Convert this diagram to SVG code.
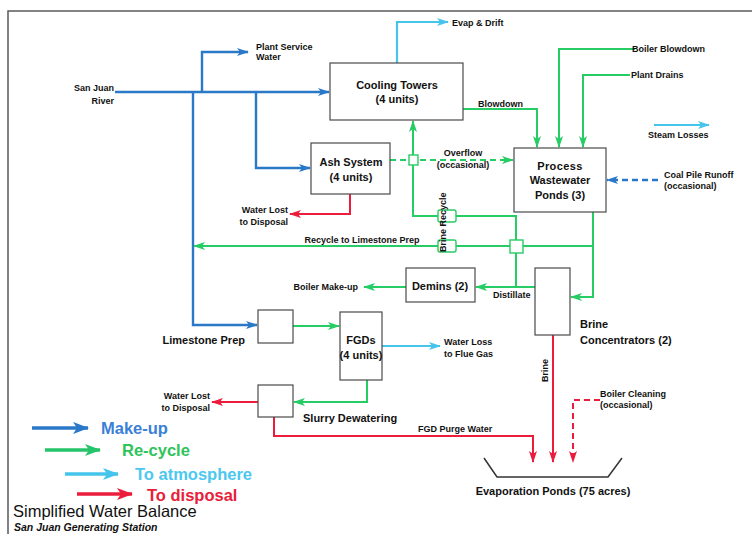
<svg xmlns="http://www.w3.org/2000/svg" width="752" height="534" viewBox="0 0 752 534">
  <style>
    .box { fill: #ffffff; stroke: #4a4a4a; stroke-width: 1.2; }
    .lbl { font-family: "Liberation Sans", Arial, sans-serif; font-weight: bold; font-size: 9px; fill: #111; }
    .blbl { font-family: "Liberation Sans", Arial, sans-serif; font-weight: bold; font-size: 11px; fill: #111; }
    .blue { fill: none; stroke: #2a78c8; stroke-width: 2.4; }
    .green { fill: none; stroke: #26cc64; stroke-width: 2; }
    .cyan { fill: none; stroke: #45c4ec; stroke-width: 2.2; }
    .red { fill: none; stroke: #ec1c3c; stroke-width: 2; }
    .dash { stroke-dasharray: 6 4; }
    .jump { fill: #ffffff; stroke: #26cc64; stroke-width: 1.4; }
  </style>
  <defs>
    <marker id="aBlue" viewBox="0 0 12 8" refX="11" refY="4" markerWidth="12" markerHeight="8" markerUnits="userSpaceOnUse" orient="auto">
      <path d="M0,0 L12,4 L0,8 L3,4 z" fill="#2a78c8"/>
    </marker>
    <marker id="aGreen" viewBox="0 0 12 8" refX="11" refY="4" markerWidth="12" markerHeight="8" markerUnits="userSpaceOnUse" orient="auto">
      <path d="M0,0 L12,4 L0,8 L3,4 z" fill="#26cc64"/>
    </marker>
    <marker id="aCyan" viewBox="0 0 12 8" refX="11" refY="4" markerWidth="12" markerHeight="8" markerUnits="userSpaceOnUse" orient="auto">
      <path d="M0,0 L12,4 L0,8 L3,4 z" fill="#45c4ec"/>
    </marker>
    <marker id="aRed" viewBox="0 0 12 8" refX="11" refY="4" markerWidth="12" markerHeight="8" markerUnits="userSpaceOnUse" orient="auto">
      <path d="M0,0 L12,4 L0,8 L3,4 z" fill="#ec1c3c"/>
    </marker>
    <marker id="lBlue" viewBox="0 0 16 12" refX="15" refY="6" markerWidth="16" markerHeight="12" markerUnits="userSpaceOnUse" orient="auto">
      <path d="M0,0 L16,6 L0,12 L4,6 z" fill="#2a78c8"/>
    </marker>
    <marker id="lGreen" viewBox="0 0 16 12" refX="15" refY="6" markerWidth="16" markerHeight="12" markerUnits="userSpaceOnUse" orient="auto">
      <path d="M0,0 L16,6 L0,12 L4,6 z" fill="#26c46a"/>
    </marker>
    <marker id="lCyan" viewBox="0 0 16 12" refX="15" refY="6" markerWidth="16" markerHeight="12" markerUnits="userSpaceOnUse" orient="auto">
      <path d="M0,0 L16,6 L0,12 L4,6 z" fill="#45c4ec"/>
    </marker>
    <marker id="lRed" viewBox="0 0 16 12" refX="15" refY="6" markerWidth="16" markerHeight="12" markerUnits="userSpaceOnUse" orient="auto">
      <path d="M0,0 L16,6 L0,12 L4,6 z" fill="#ec1c3c"/>
    </marker>
  </defs>

  <rect width="752" height="534" fill="#ffffff"/>
  <!-- frame -->
  <path d="M8,534 V11 H752" fill="none" stroke="#5a5a5a" stroke-width="1.5"/>

  <!-- connectors -->
  <g id="connectors">
    <!-- make-up water from the river -->
    <path class="blue" d="M115,92 H329" marker-end="url(#aBlue)"/>
    <path class="blue" d="M202,92 V52 H248" marker-end="url(#aBlue)"/>
    <path class="blue" d="M256,92 V168 H310" marker-end="url(#aBlue)"/>
    <path class="blue" d="M193,92 V325 H257" marker-end="url(#aBlue)"/>
    <path class="blue dash" d="M658,180 H607" marker-end="url(#aBlue)"/>

    <!-- losses to atmosphere -->
    <path class="cyan" d="M397,63 V22 H448" marker-end="url(#aCyan)"/>
    <path class="cyan" d="M382,346 H440" marker-end="url(#aCyan)"/>
    <path class="cyan" d="M654,125 H709" marker-end="url(#aCyan)"/>

    <!-- recycle streams -->
    <path class="green" d="M463,109 H537 V147" marker-end="url(#aGreen)"/>
    <path class="green" d="M635,49 H559 V147" marker-end="url(#aGreen)"/>
    <path class="green" d="M630,75 H583 V147" marker-end="url(#aGreen)"/>
    <path class="green dash" d="M390,160 H513" marker-end="url(#aGreen)"/>
    <path class="green" d="M516,287 V216 H413 V121" marker-end="url(#aGreen)"/>
    <path class="green" d="M593,212 V297 H571" marker-end="url(#aGreen)"/>
    <path class="green" d="M593,246 H194" marker-end="url(#aGreen)"/>
    <path class="green" d="M535,287 H476" marker-end="url(#aGreen)"/>
    <path class="green" d="M406,287 H364" marker-end="url(#aGreen)"/>
    <path class="green" d="M293,326 H339" marker-end="url(#aGreen)"/>
    <path class="green" d="M367,380 V402 H294" marker-end="url(#aGreen)"/>

    <!-- line crossings -->
    <rect class="jump" x="409" y="155" width="9" height="10"/>
    <rect class="jump" x="438" y="210" width="18" height="12" rx="2"/>
    <rect class="jump" x="438" y="240" width="18" height="12" rx="2"/>
    <rect class="jump" x="510" y="240" width="13" height="13"/>

    <!-- streams to disposal -->
    <path class="red" d="M350,194 V214 H290" marker-end="url(#aRed)"/>
    <path class="red" d="M258,402 H212" marker-end="url(#aRed)"/>
    <path class="red" d="M274,417 V436 H533 V462" marker-end="url(#aRed)"/>
    <path class="red" d="M553,335 V462" marker-end="url(#aRed)"/>
    <path class="red dash" d="M600,400 H573 V462" marker-end="url(#aRed)"/>
  </g>

  <!-- stream labels -->
  <g id="labels">
    <text class="lbl" x="114" y="91" text-anchor="end" font-size="10.5">San Juan</text>
    <text class="lbl" x="114" y="104" text-anchor="end" font-size="10.5">River</text>
    <text class="lbl" x="256" y="50">Plant Service</text>
    <text class="lbl" x="256" y="60">Water</text>
    <text class="lbl" x="452" y="26" font-size="9.5">Evap &amp; Drift</text>
    <text class="lbl" x="478" y="107">Blowdown</text>
    <text class="lbl" x="632" y="52">Boiler Blowdown</text>
    <text class="lbl" x="631" y="78">Plant Drains</text>
    <text class="lbl" x="648" y="138">Steam Losses</text>
    <text class="lbl" x="664" y="178">Coal Pile Runoff</text>
    <text class="lbl" x="664" y="189">(occasional)</text>
    <text class="lbl" x="463" y="156" text-anchor="middle">Overflow</text>
    <text class="lbl" x="463" y="168" text-anchor="middle">(occasional)</text>
    <text class="lbl" x="288" y="213" text-anchor="end">Water Lost</text>
    <text class="lbl" x="288" y="225" text-anchor="end">to Disposal</text>
    <text class="lbl" x="362" y="243" text-anchor="middle">Recycle to Limestone Prep</text>
    <text class="lbl" x="0" y="0" font-size="6.5" transform="translate(446,252) rotate(-90)">Brine Recycle</text>
    <text class="lbl" x="358" y="290" text-anchor="end">Boiler Make-up</text>
    <text class="lbl" x="493" y="298">Distillate</text>
    <text class="blbl" x="245" y="344" text-anchor="end">Limestone Prep</text>
    <text class="lbl" x="444" y="345">Water Loss</text>
    <text class="lbl" x="444" y="357">to Flue Gas</text>
    <text class="lbl" x="210" y="399" text-anchor="end">Water Lost</text>
    <text class="lbl" x="210" y="411" text-anchor="end">to Disposal</text>
    <text class="lbl" x="418" y="432">FGD Purge Water</text>
    <text class="lbl" x="0" y="0" transform="translate(548,382) rotate(-90)">Brine</text>
    <text class="lbl" x="600" y="397">Boiler Cleaning</text>
    <text class="lbl" x="600" y="408">(occasional)</text>
  </g>

  <!-- nodes -->
  <g id="cooling-towers">
    <rect class="box" x="330" y="63" width="133" height="57"/>
    <text class="blbl" x="397" y="89" text-anchor="middle">Cooling Towers</text>
    <text class="blbl" x="397" y="103" text-anchor="middle">(4 units)</text>
  </g>
  <g id="ash-system">
    <rect class="box" x="311" y="143" width="79" height="51"/>
    <text class="blbl" x="351" y="166" text-anchor="middle">Ash System</text>
    <text class="blbl" x="351" y="181" text-anchor="middle">(4 units)</text>
  </g>
  <g id="process-ponds">
    <rect class="box" x="514" y="148" width="92" height="64"/>
    <text class="blbl" x="560" y="170" text-anchor="middle" letter-spacing="0.4">Process</text>
    <text class="blbl" x="560" y="184" text-anchor="middle">Wastewater</text>
    <text class="blbl" x="560" y="199" text-anchor="middle">Ponds (3)</text>
  </g>
  <g id="demins">
    <rect class="box" x="406" y="268" width="69" height="34"/>
    <text class="blbl" x="440" y="290" text-anchor="middle" font-size="11.5">Demins (2)</text>
  </g>
  <g id="brine-concentrators">
    <rect class="box" x="535" y="268" width="35" height="67"/>
    <text class="blbl" x="580" y="328">Brine</text>
    <text class="blbl" x="580" y="344">Concentrators (2)</text>
  </g>
  <g id="limestone-prep">
    <rect class="box" x="258" y="310" width="35" height="33"/>
  </g>
  <g id="fgds">
    <rect class="box" x="340" y="312" width="42" height="68"/>
    <text class="blbl" x="361" y="344" text-anchor="middle">FGDs</text>
    <text class="blbl" x="361" y="359" text-anchor="middle">(4 units)</text>
  </g>
  <g id="slurry-dewatering">
    <rect class="box" x="258" y="385" width="35" height="32"/>
    <text class="blbl" x="303" y="422">Slurry Dewatering</text>
  </g>
  <g id="evaporation-ponds">
    <path d="M484,458 L497,477 H608 L622,458" fill="none" stroke="#333" stroke-width="1.5"/>
    <text class="blbl" x="553" y="495" text-anchor="middle">Evaporation Ponds (75 acres)</text>
  </g>

  <!-- legend and title -->
  <g id="legend" font-family="Liberation Sans, Arial, sans-serif" font-weight="bold" font-size="16.5">
    <path d="M32,428 H88" stroke="#2a78c8" stroke-width="3.5" fill="none" marker-end="url(#lBlue)"/>
    <text x="101" y="434" fill="#3a80d8">Make-up</text>
    <path d="M45,450 H100" stroke="#26c46a" stroke-width="3.5" fill="none" marker-end="url(#lGreen)"/>
    <text x="122" y="456" fill="#2ec45a">Re-cycle</text>
    <path d="M65,474 H118" stroke="#45c4ec" stroke-width="3.5" fill="none" marker-end="url(#lCyan)"/>
    <text x="135" y="480" fill="#4cc8f0">To atmosphere</text>
    <path d="M77,494 H132" stroke="#ec1c3c" stroke-width="3.5" fill="none" marker-end="url(#lRed)"/>
    <text x="147" y="501" fill="#e8203a">To disposal</text>
  </g>
  <g id="title" font-family="Liberation Sans, Arial, sans-serif" fill="#111">
    <text x="13" y="517" font-size="16.5">Simplified Water Balance</text>
    <text x="14" y="531" font-size="10.5" font-weight="bold" font-style="italic">San Juan Generating Station</text>
  </g>
</svg>
